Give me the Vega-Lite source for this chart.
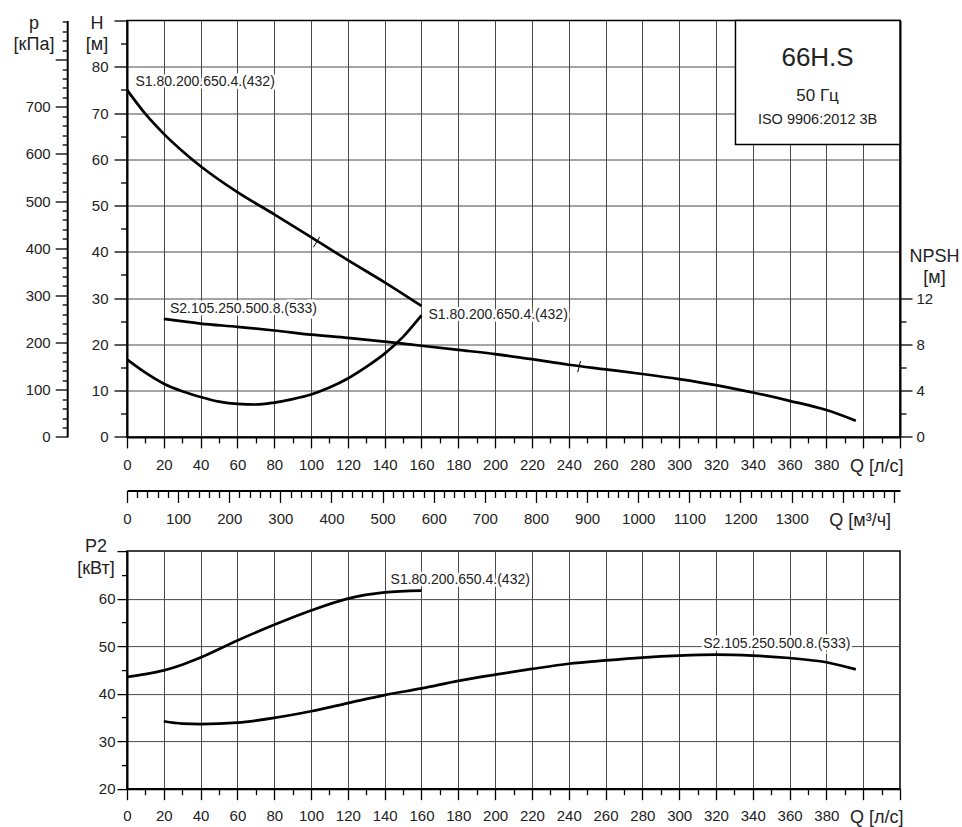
{
  "$schema": "https://vega.github.io/schema/vega-lite/v6.json",
  "background": "white",
  "padding": {"left": 12, "top": 12.5, "right": 5, "bottom": 5},
  "config": {
    "font": "Liberation Sans",
    "view": {"stroke": "black", "strokeWidth": 1.5},
    "axis": {
      "domainColor": "black", "domainWidth": 2, "tickColor": "black", "tickWidth": 1.3,
      "labelColor": "#222", "labelFontSize": 15, "labelFont": "Liberation Sans",
      "titleFont": "Liberation Sans", "titleFontWeight": "normal", "titleFontSize": 18, "titleColor": "#222",
      "gridColor": "#4a4a4a", "gridWidth": 1, "labelOverlap": false, "labelFlush": false, "labelBound": false
    }
  },
  "datasets": {
    "h": [
      {"Q": 0, "H": 75.0, "s": "S1"}, {"Q": 10, "H": 69.8, "s": "S1"}, {"Q": 20, "H": 65.5, "s": "S1"},
      {"Q": 30, "H": 61.8, "s": "S1"}, {"Q": 40, "H": 58.5, "s": "S1"}, {"Q": 60, "H": 52.9, "s": "S1"},
      {"Q": 80, "H": 48.1, "s": "S1"}, {"Q": 100, "H": 43.2, "s": "S1"}, {"Q": 120, "H": 38.2, "s": "S1"},
      {"Q": 140, "H": 33.4, "s": "S1"}, {"Q": 160, "H": 28.3, "s": "S1"},
      {"Q": 20, "H": 25.5, "s": "S2"}, {"Q": 40, "H": 24.5, "s": "S2"}, {"Q": 60, "H": 23.8, "s": "S2"},
      {"Q": 80, "H": 23.0, "s": "S2"}, {"Q": 100, "H": 22.1, "s": "S2"}, {"Q": 120, "H": 21.4, "s": "S2"},
      {"Q": 140, "H": 20.6, "s": "S2"}, {"Q": 160, "H": 19.7, "s": "S2"}, {"Q": 180, "H": 18.8, "s": "S2"},
      {"Q": 200, "H": 17.9, "s": "S2"}, {"Q": 220, "H": 16.8, "s": "S2"}, {"Q": 240, "H": 15.6, "s": "S2"},
      {"Q": 260, "H": 14.6, "s": "S2"}, {"Q": 280, "H": 13.6, "s": "S2"}, {"Q": 300, "H": 12.5, "s": "S2"},
      {"Q": 320, "H": 11.2, "s": "S2"}, {"Q": 340, "H": 9.6, "s": "S2"}, {"Q": 360, "H": 7.8, "s": "S2"},
      {"Q": 380, "H": 5.8, "s": "S2"}, {"Q": 396, "H": 3.5, "s": "S2"}
    ],
    "npsh": [
      {"Q": 0, "NPSH": 6.7}, {"Q": 10, "NPSH": 5.55}, {"Q": 20, "NPSH": 4.6}, {"Q": 30, "NPSH": 3.95},
      {"Q": 40, "NPSH": 3.45}, {"Q": 50, "NPSH": 3.05}, {"Q": 60, "NPSH": 2.85}, {"Q": 70, "NPSH": 2.8},
      {"Q": 80, "NPSH": 2.97}, {"Q": 90, "NPSH": 3.27}, {"Q": 100, "NPSH": 3.67}, {"Q": 110, "NPSH": 4.27},
      {"Q": 120, "NPSH": 5.05}, {"Q": 130, "NPSH": 6.05}, {"Q": 140, "NPSH": 7.2}, {"Q": 150, "NPSH": 8.65},
      {"Q": 160, "NPSH": 10.5}
    ],
    "p2": [
      {"Q": 0, "P2": 43.5, "s": "S1"}, {"Q": 10, "P2": 44.1, "s": "S1"}, {"Q": 20, "P2": 44.9, "s": "S1"},
      {"Q": 30, "P2": 46.1, "s": "S1"}, {"Q": 40, "P2": 47.6, "s": "S1"}, {"Q": 60, "P2": 51.2, "s": "S1"},
      {"Q": 80, "P2": 54.5, "s": "S1"}, {"Q": 100, "P2": 57.5, "s": "S1"}, {"Q": 120, "P2": 60.0, "s": "S1"},
      {"Q": 140, "P2": 61.3, "s": "S1"}, {"Q": 160, "P2": 61.7, "s": "S1"},
      {"Q": 20, "P2": 34.2, "s": "S2"}, {"Q": 30, "P2": 33.7, "s": "S2"}, {"Q": 40, "P2": 33.6, "s": "S2"},
      {"Q": 60, "P2": 33.9, "s": "S2"}, {"Q": 80, "P2": 34.9, "s": "S2"}, {"Q": 100, "P2": 36.3, "s": "S2"},
      {"Q": 120, "P2": 38.0, "s": "S2"}, {"Q": 140, "P2": 39.7, "s": "S2"}, {"Q": 160, "P2": 41.1, "s": "S2"},
      {"Q": 180, "P2": 42.7, "s": "S2"}, {"Q": 200, "P2": 44.0, "s": "S2"}, {"Q": 220, "P2": 45.2, "s": "S2"},
      {"Q": 240, "P2": 46.3, "s": "S2"}, {"Q": 260, "P2": 47.0, "s": "S2"}, {"Q": 280, "P2": 47.6, "s": "S2"},
      {"Q": 300, "P2": 48.0, "s": "S2"}, {"Q": 320, "P2": 48.2, "s": "S2"}, {"Q": 340, "P2": 48.0, "s": "S2"},
      {"Q": 360, "P2": 47.5, "s": "S2"}, {"Q": 380, "P2": 46.6, "s": "S2"}, {"Q": 396, "P2": 45.1, "s": "S2"}
    ],
    "hlabels": [
      {"Q": 4.6, "H": 76.6, "label": "S1.80.200.650.4.(432)"},
      {"Q": 23.3, "H": 27.6, "label": "S2.105.250.500.8.(533)"},
      {"Q": 163.8, "H": 26.3, "label": "S1.80.200.650.4.(432)"}
    ],
    "plabels": [
      {"Q": 143.2, "P2": 63.85, "label": "S1.80.200.650.4.(432)"},
      {"Q": 313.1, "P2": 50.5, "label": "S2.105.250.500.8.(533)"}
    ],
    "marks": [
      {"Q1": 101.3, "Q2": 104.7, "H1": 41.0, "H2": 43.2},
      {"Q1": 244.9, "Q2": 246.4, "H1": 13.97, "H2": 16.4}
    ]
  },
  "spacing": 113.6,
  "bounds": "flush",
  "vconcat": [
    {
      "width": 773,
      "height": 416.4,
      "layer": [
        {
          "layer": [
            {
              "data": {"name": "h"},
              "mark": {"type": "line", "color": "black", "strokeWidth": 2.7, "interpolate": "monotone"},
              "encoding": {
                "x": {
                  "field": "Q", "type": "quantitative",
                  "scale": {"domain": [0, 420], "nice": false, "zero": false},
                  "axis": {
                    "orient": "bottom", "title": null, "format": "d", "tickCount": 1000,
                    "values": [0,10,20,30,40,50,60,70,80,90,100,110,120,130,140,150,160,170,180,190,200,210,220,230,240,250,260,270,280,290,300,310,320,330,340,350,360,370,380,390,400,410,420],
                    "labelExpr": "datum.value == 400 ? 'Q [л/с]' : ((datum.value % 20 == 0 && datum.value <= 380) ? datum.label : '')",
                    "labelFontSize": {"condition": {"test": "datum.value == 400", "value": 18}, "value": 15},
                    "labelOffset": {"condition": {"test": "datum.value == 400", "value": 13}, "value": 0},
                    "tickSize": {"condition": {"test": "datum.value % 20 == 0", "value": 11}, "value": 6},
                    "labelPadding": 10,
                    "grid": true,
                    "gridOpacity": {"condition": {"test": "datum.value % 20 == 0 && datum.value > 0 && datum.value < 420", "value": 1}, "value": 0}
                  }
                },
                "y": {
                  "field": "H", "type": "quantitative",
                  "scale": {"domain": [0, 90], "nice": false},
                  "axis": {
                    "orient": "left", "format": "d", "tickCount": 1000,
                    "values": [0,5,10,15,20,25,30,35,40,45,50,55,60,65,70,75,80,85,90],
                    "labelExpr": "(datum.value % 10 == 0 && datum.value <= 80) ? datum.label : ''",
                    "tickSize": {"condition": {"test": "datum.value % 10 == 0", "value": 13}, "value": 6.5},
                    "labelPadding": 6,
                    "grid": true,
                    "gridOpacity": {"condition": {"test": "datum.value % 10 == 0 && datum.value > 0 && datum.value < 90", "value": 1}, "value": 0},
                    "title": ["H", "[м]"],
                    "titleAngle": 0, "titleAlign": "center", "titleBaseline": "alphabetic",
                    "titleX": -30.5, "titleY": 7.6, "titleLineHeight": 21
                  }
                },
                "detail": {"field": "s"}
              }
            },
            {
              "data": {"name": "marks"},
              "mark": {"type": "rule", "color": "black", "strokeWidth": 1},
              "encoding": {
                "x": {"field": "Q1", "type": "quantitative"},
                "x2": {"field": "Q2"},
                "y": {"field": "H1", "type": "quantitative"},
                "y2": {"field": "H2"}
              }
            },
            {
              "data": {"values": [{"Q": 330.6, "Q2": 420, "H": 90, "H2": 63.2}]},
              "mark": {"type": "rect", "fill": "white", "stroke": "black", "strokeWidth": 1.5},
              "encoding": {
                "x": {"field": "Q", "type": "quantitative"},
                "x2": {"field": "Q2"},
                "y": {"field": "H", "type": "quantitative"},
                "y2": {"field": "H2"}
              }
            },
            {
              "data": {"values": [{"Q": 375.2, "H": 80.2, "t": "66H.S"}]},
              "mark": {"type": "text", "fontSize": 26, "align": "center", "baseline": "alphabetic", "color": "#222"},
              "encoding": {"x": {"field": "Q", "type": "quantitative"}, "y": {"field": "H", "type": "quantitative"}, "text": {"field": "t"}}
            },
            {
              "data": {"values": [{"Q": 375.2, "H": 72.65, "t": "50 Гц"}]},
              "mark": {"type": "text", "fontSize": 17, "align": "center", "baseline": "alphabetic", "color": "#222"},
              "encoding": {"x": {"field": "Q", "type": "quantitative"}, "y": {"field": "H", "type": "quantitative"}, "text": {"field": "t"}}
            },
            {
              "data": {"values": [{"Q": 375.2, "H": 67.6, "t": "ISO 9906:2012 3B"}]},
              "mark": {"type": "text", "fontSize": 14.5, "align": "center", "baseline": "alphabetic", "color": "#222"},
              "encoding": {"x": {"field": "Q", "type": "quantitative"}, "y": {"field": "H", "type": "quantitative"}, "text": {"field": "t"}}
            },
            {
              "data": {"name": "hlabels"},
              "mark": {"type": "text", "fontSize": 14, "align": "left", "baseline": "middle", "stroke": "white", "strokeWidth": 5, "fill": "white"},
              "encoding": {"x": {"field": "Q", "type": "quantitative"}, "y": {"field": "H", "type": "quantitative"}, "text": {"field": "label"}}
            },
            {
              "data": {"name": "hlabels"},
              "mark": {"type": "text", "fontSize": 14, "align": "left", "baseline": "middle", "color": "#222"},
              "encoding": {"x": {"field": "Q", "type": "quantitative"}, "y": {"field": "H", "type": "quantitative"}, "text": {"field": "label"}}
            }
          ]
        },
        {
          "data": {"name": "npsh"},
          "mark": {"type": "line", "color": "black", "strokeWidth": 2.7, "interpolate": "monotone"},
          "encoding": {
            "x": {"field": "Q", "type": "quantitative", "scale": {"domain": [0, 420], "nice": false, "zero": false}, "axis": null},
            "y": {
              "field": "NPSH", "type": "quantitative",
              "scale": {"domain": [0, 36], "nice": false},
              "axis": {
                "orient": "right", "format": "d", "tickCount": 1000,
                "values": [0,2,4,6,8,10,12],
                "labelExpr": "datum.value % 4 == 0 ? datum.label : ''",
                "tickSize": {"condition": {"test": "datum.value % 4 == 0", "value": 12}, "value": 6},
                "labelPadding": 4,
                "grid": false,
                "title": ["NPSH", "[м]"],
                "titleAngle": 0, "titleAlign": "center", "titleBaseline": "alphabetic",
                "titleX": 34, "titleY": 241, "titleLineHeight": 21
              }
            }
          }
        },
        {
          "data": {"values": [{"p": 0}, {"p": 882.9}]},
          "mark": {"type": "point", "opacity": 0},
          "encoding": {
            "y": {
              "field": "p", "type": "quantitative",
              "scale": {"domain": [0, 882.9], "nice": false},
              "axis": {
                "orient": "left", "offset": 59.8, "format": "d", "tickCount": 1000,
                "values": [0,20,40,60,80,100,120,140,160,180,200,220,240,260,280,300,320,340,360,380,400,420,440,460,480,500,520,540,560,580,600,620,640,660,680,700,720,740,760,780,800,820,840,860,880],
                "labelExpr": "(datum.value % 100 == 0 && datum.value <= 700) ? datum.label : ''",
                "tickSize": {"condition": {"test": "datum.value % 100 == 0", "value": 12}, "value": 5},
                "labelPadding": 5,
                "grid": false,
                "title": ["p", "[кПа]"],
                "titleAngle": 0, "titleAlign": "center", "titleBaseline": "alphabetic",
                "titleX": -33.7, "titleY": 7.6, "titleLineHeight": 21
              }
            }
          }
        },
        {
          "data": {"values": [{"Qm3": 0}, {"Qm3": 1512}]},
          "mark": {"type": "point", "opacity": 0},
          "encoding": {
            "x": {
              "field": "Qm3", "type": "quantitative",
              "scale": {"domain": [0, 1512], "nice": false, "zero": false},
              "axis": {
                "orient": "bottom", "offset": 53.6, "format": "d", "title": null, "tickCount": 1000,
                "values": [0,20,40,60,80,100,120,140,160,180,200,220,240,260,280,300,320,340,360,380,400,420,440,460,480,500,520,540,560,580,600,620,640,660,680,700,720,740,760,780,800,820,840,860,880,900,920,940,960,980,1000,1020,1040,1060,1080,1100,1120,1140,1160,1180,1200,1220,1240,1260,1280,1300,1320,1340,1360,1380,1400,1420,1440,1460,1480,1500],
                "labelExpr": "datum.value == 1400 ? 'Q [м³/ч]' : ((datum.value % 100 == 0 && datum.value <= 1300) ? datum.label : '')",
                "labelFontSize": {"condition": {"test": "datum.value == 1400", "value": 18}, "value": 15},
                "labelOffset": {"condition": {"test": "datum.value == 1400", "value": 17}, "value": 0},
                "tickSize": {"condition": {"test": "datum.value % 100 == 0", "value": 12}, "value": 7},
                "labelPadding": 9,
                "grid": false
              }
            }
          }
        }
      ],
      "resolve": {"scale": {"x": "independent", "y": "independent"}}
    },
    {
      "width": 773,
      "height": 237.6,
      "layer": [
        {
          "data": {"name": "p2"},
          "mark": {"type": "line", "color": "black", "strokeWidth": 2.7, "interpolate": "monotone"},
          "encoding": {
            "x": {
              "field": "Q", "type": "quantitative",
              "scale": {"domain": [0, 420], "nice": false, "zero": false},
              "axis": {
                "orient": "bottom", "title": null, "format": "d", "tickCount": 1000,
                "values": [0,10,20,30,40,50,60,70,80,90,100,110,120,130,140,150,160,170,180,190,200,210,220,230,240,250,260,270,280,290,300,310,320,330,340,350,360,370,380,390,400,410,420],
                "labelExpr": "datum.value == 400 ? 'Q [л/с]' : ((datum.value % 20 == 0 && datum.value <= 380) ? datum.label : '')",
                "labelFontSize": {"condition": {"test": "datum.value == 400", "value": 18}, "value": 15},
                "labelOffset": {"condition": {"test": "datum.value == 400", "value": 13}, "value": 0},
                "tickSize": {"condition": {"test": "datum.value % 20 == 0", "value": 11}, "value": 6},
                "labelPadding": 9,
                "grid": true,
                "gridOpacity": {"condition": {"test": "datum.value % 20 == 0 && datum.value > 0 && datum.value < 420", "value": 1}, "value": 0}
              }
            },
            "y": {
              "field": "P2", "type": "quantitative",
              "scale": {"domain": [20, 70], "nice": false, "zero": false},
              "axis": {
                "orient": "left", "format": "d", "tickCount": 1000,
                "values": [20,25,30,35,40,45,50,55,60,65,70],
                "labelExpr": "(datum.value % 10 == 0 && datum.value <= 60) ? datum.label : ''",
                "tickSize": {"condition": {"test": "datum.value % 10 == 0", "value": 10}, "value": 5.5},
                "labelPadding": 2,
                "grid": true,
                "gridOpacity": {"condition": {"test": "datum.value % 10 == 0 && datum.value > 20 && datum.value < 70", "value": 1}, "value": 0},
                "title": ["P2", "[кВт]"],
                "titleAngle": 0, "titleAlign": "center", "titleBaseline": "alphabetic",
                "titleX": -31.5, "titleY": 0.3, "titleLineHeight": 22
              }
            },
            "detail": {"field": "s"}
          }
        },
        {
          "data": {"name": "plabels"},
          "mark": {"type": "text", "fontSize": 14, "align": "left", "baseline": "middle", "stroke": "white", "strokeWidth": 5, "fill": "white"},
          "encoding": {"x": {"field": "Q", "type": "quantitative"}, "y": {"field": "P2", "type": "quantitative"}, "text": {"field": "label"}}
        },
        {
          "data": {"name": "plabels"},
          "mark": {"type": "text", "fontSize": 14, "align": "left", "baseline": "middle", "color": "#222"},
          "encoding": {"x": {"field": "Q", "type": "quantitative"}, "y": {"field": "P2", "type": "quantitative"}, "text": {"field": "label"}}
        }
      ]
    }
  ]
}
